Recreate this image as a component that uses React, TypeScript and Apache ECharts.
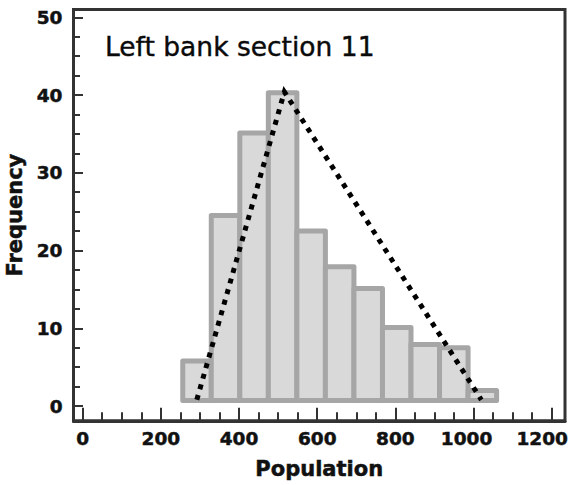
import React, { useEffect, useRef } from "react";
import * as echarts from "echarts";

const TITLE = "Left bank section 11";
const X_NAME = "Population";
const Y_NAME = "Frequency";

const BIN_STARTS = [256, 329, 402, 475, 548, 621, 694, 767, 840, 913, 986];
const BIN_WIDTH = 73;
const FREQUENCIES = [5.8, 24.5, 35.1, 40.3, 22.5, 17.9, 15.1, 10.1, 7.9, 7.5, 2.0];
const BAR_BASE = 0.7;

const LINE_X = [292, 516, 1020];
const LINE_Y = [0.8, 40.4, 0.8];

const X_MAJOR = [0, 200, 400, 600, 800, 1000, 1200];
const X_MINOR = [50, 100, 150, 250, 300, 350, 450, 500, 550, 650, 700, 750, 850, 900, 950, 1050, 1100, 1150];
const Y_MAJOR = [0, 10, 20, 30, 40, 50];
const Y_MINOR = [2.5, 5, 7.5, 12.5, 15, 17.5, 22.5, 25, 27.5, 32.5, 35, 37.5, 42.5, 45, 47.5];

const X_MIN = -23.5;
const X_MAX = 1234;
const Y_MIN = -1.9;
const Y_MAX = 51;

const FONT = "DejaVu Sans";
const AXIS_COLOR = "#333333";

export default function App() {
  const ref = useRef<HTMLDivElement>(null);

  useEffect(() => {
    if (!ref.current) return;
    const chart = echarts.init(ref.current, undefined, { renderer: "svg" });

    const bins = BIN_STARTS.map((s, i) => [s, s + BIN_WIDTH, FREQUENCIES[i]]);
    const line = LINE_X.map((x, i) => [x, LINE_Y[i]]);

    const gridPos = {
      left: 73.5,
      right: 5,
      top: 9.5,
      bottom: 64.2,
      containLabel: false,
      outerBoundsMode: "none",
    };

    const baseFont = {
      fontFamily: FONT,
      fontWeight: "bold" as const,
      fontSize: 18.5,
      color: "#111111",
      textBorderColor: "#111111",
      textBorderWidth: 0.5,
    };

    const labelStyle = {
      ...baseFont,
      formatter: (v: number) => String(v),
    };

    const xLabelStyle = {
      ...baseFont,
      formatter: (v: number) => {
        if (v === 1200) return "{e|" + v + "}";
        if (v === 1000) return "{d|" + v + "}";
        return "{n|" + v + "}";
      },
      rich: {
        n: { ...baseFont },
        d: { ...baseFont, padding: [0, 14, 0, 0] },
        e: { ...baseFont, padding: [0, 19, 0, 0] },
      },
    };

    const nameStyle = {
      fontFamily: FONT,
      fontWeight: "bold",
      fontSize: 21,
      color: "#111111",
      textBorderColor: "#111111",
      textBorderWidth: 0.5,
    };

    const option: any = {
      animation: false,
      backgroundColor: "#ffffff",
      title: {
        text: TITLE,
        left: 105,
        top: 31,
        padding: 0,
        textStyle: {
          fontFamily: FONT,
          fontWeight: "normal",
          fontSize: 26.5,
          lineHeight: 30,
          color: "#0a0a0a",
          textBorderColor: "#0a0a0a",
          textBorderWidth: 0.4,
        },
      },
      grid: [
        {
          ...gridPos,
          show: true,
          borderColor: AXIS_COLOR,
          borderWidth: 3,
          backgroundColor: "transparent",
        },
        { ...gridPos, show: false },
      ],
      xAxis: [
        {
          gridIndex: 0,
          type: "value",
          min: X_MIN,
          max: X_MAX,
          name: X_NAME,
          nameLocation: "middle",
          nameGap: 38,
          nameTextStyle: nameStyle,
          axisLine: { show: true, onZero: false, lineStyle: { color: AXIS_COLOR, width: 3 } },
          axisTick: {
            show: true,
            inside: true,
            length: 13,
            customValues: X_MAJOR,
            lineStyle: { color: AXIS_COLOR, width: 2 },
          },
          axisLabel: { ...xLabelStyle, margin: 8, customValues: X_MAJOR },
          splitLine: { show: false },
        },
        {
          gridIndex: 1,
          type: "value",
          min: X_MIN,
          max: X_MAX,
          axisLine: { show: false, onZero: false },
          axisTick: {
            show: true,
            inside: true,
            length: 8.5,
            customValues: X_MINOR,
            lineStyle: { color: AXIS_COLOR, width: 2 },
          },
          axisLabel: { show: false },
          splitLine: { show: false },
        },
      ],
      yAxis: [
        {
          gridIndex: 0,
          type: "value",
          min: Y_MIN,
          max: Y_MAX,
          name: Y_NAME,
          nameLocation: "middle",
          nameGap: 46,
          nameRotate: 90,
          nameTextStyle: nameStyle,
          axisLine: { show: true, onZero: false, lineStyle: { color: AXIS_COLOR, width: 3 } },
          axisTick: {
            show: true,
            inside: true,
            length: 9.5,
            customValues: Y_MAJOR,
            lineStyle: { color: AXIS_COLOR, width: 2 },
          },
          axisLabel: { ...labelStyle, margin: 11, customValues: Y_MAJOR },
          splitLine: { show: false },
        },
        {
          gridIndex: 1,
          type: "value",
          min: Y_MIN,
          max: Y_MAX,
          axisLine: { show: false, onZero: false },
          axisTick: {
            show: true,
            inside: true,
            length: 6.5,
            customValues: Y_MINOR,
            lineStyle: { color: AXIS_COLOR, width: 2 },
          },
          axisLabel: { show: false },
          splitLine: { show: false },
        },
      ],
      series: [
        {
          type: "custom",
          xAxisIndex: 0,
          yAxisIndex: 0,
          data: bins,
          z: 2,
          renderItem: (params: any, api: any) => {
            const p0 = api.coord([api.value(0), api.value(2)]);
            const p1 = api.coord([api.value(1), BAR_BASE]);
            return {
              type: "rect",
              shape: { x: p0[0], y: p0[1], width: p1[0] - p0[0], height: p1[1] - p0[1] },
              style: {
                fill: "#d9d9d9",
                stroke: "#a6a6a6",
                lineWidth: 5,
                lineJoin: "round",
              },
            };
          },
        },
        {
          type: "line",
          xAxisIndex: 0,
          yAxisIndex: 0,
          data: line,
          showSymbol: false,
          symbol: "none",
          z: 5,
          lineStyle: {
            color: "#000000",
            width: 5,
            type: [5, 6],
            cap: "butt",
            join: "miter",
          },
        },
      ],
    };

    chart.setOption(option);
    return () => chart.dispose();
  }, []);

  return (
    <div
      ref={ref}
      style={{ position: "fixed", left: 0, top: 0, width: 570, height: 485 }}
    />
  );
}
